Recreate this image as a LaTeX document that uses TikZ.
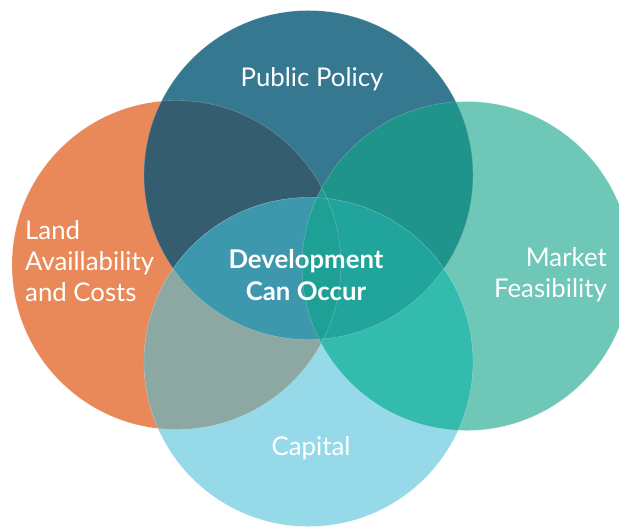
\documentclass[tikz,border=0pt]{standalone}
\usepackage{fontspec}
\setmainfont{Lato}
\definecolor{landC}{HTML}{E9895A}
\definecolor{policyC}{HTML}{377891}
\definecolor{marketC}{HTML}{6EC7B7}
\definecolor{capitalC}{HTML}{96D9E8}
\definecolor{plC}{HTML}{345D70}
\definecolor{pmC}{HTML}{1F948B}
\definecolor{clC}{HTML}{8BA8A3}
\definecolor{cmC}{HTML}{33BBAE}
\definecolor{pclC}{HTML}{3E98AD}
\definecolor{pcmC}{HTML}{21A49C}
\definecolor{plmC}{HTML}{22988E}
\definecolor{clmC}{HTML}{2AAFA2}
\definecolor{allC}{HTML}{1EA096}
\tikzset{
  label/.style={text=white, font=\fontsize{22}{26.5}\selectfont, inner sep=0pt},
  seam/.style={draw=white, draw opacity=0.3, line width=0.35pt}
}
\begin{document}
\begin{tikzpicture}[x=0.03cm, y=-0.03cm, line join=round, line cap=round]
  \def\rad{4.935cm}
  \def\circP{(308.5,175) circle (\rad)}
  \def\circC{(308.5,362) circle (\rad)}
  \def\circL{(176.5,265) circle (\rad)}
  \def\circM{(466.5,266) circle (\rad)}
  \useasboundingbox (0,0) rectangle (619,527);
  \clip (0,0) rectangle (619,527);
  % single circles
  \fill[landC] \circL;
  \fill[marketC] \circM;
  \fill[capitalC] \circC;
  \fill[policyC] \circP;
  % pairs
  \begin{scope} \clip \circP; \fill[plC] \circL; \fill[pmC] \circM; \end{scope}
  \begin{scope} \clip \circC; \fill[clC] \circL; \fill[cmC] \circM; \end{scope}
  % triples
  \begin{scope} \clip \circP; \clip \circC; \fill[pclC] \circL; \fill[pcmC] \circM; \end{scope}
  \begin{scope} \clip \circL; \clip \circM; \fill[plmC] \circP; \fill[clmC] \circC; \end{scope}
  % all four
  \begin{scope} \clip \circP; \clip \circC; \clip \circL; \fill[allC] \circM; \end{scope}
  % thin seams
  \foreach \c in {\circL, \circM, \circC, \circP} \draw[seam] \c;
  % labels
  \node[label] (policy) at (312,79) {Public Policy};
  \node[label, align=left, anchor=west] (land) at (25,261) {Land\\Availlability\\and Costs};
  \node[label, align=right, anchor=east] (market) at (607,275) {Market\\Feasibility};
  \node[label] (capital) at (311,448) {Capital};
  \node[label, align=center, font=\fontsize{22}{26.5}\selectfont\bfseries] (dev) at (306,275) {Development\\Can Occur};
\end{tikzpicture}
\end{document}
